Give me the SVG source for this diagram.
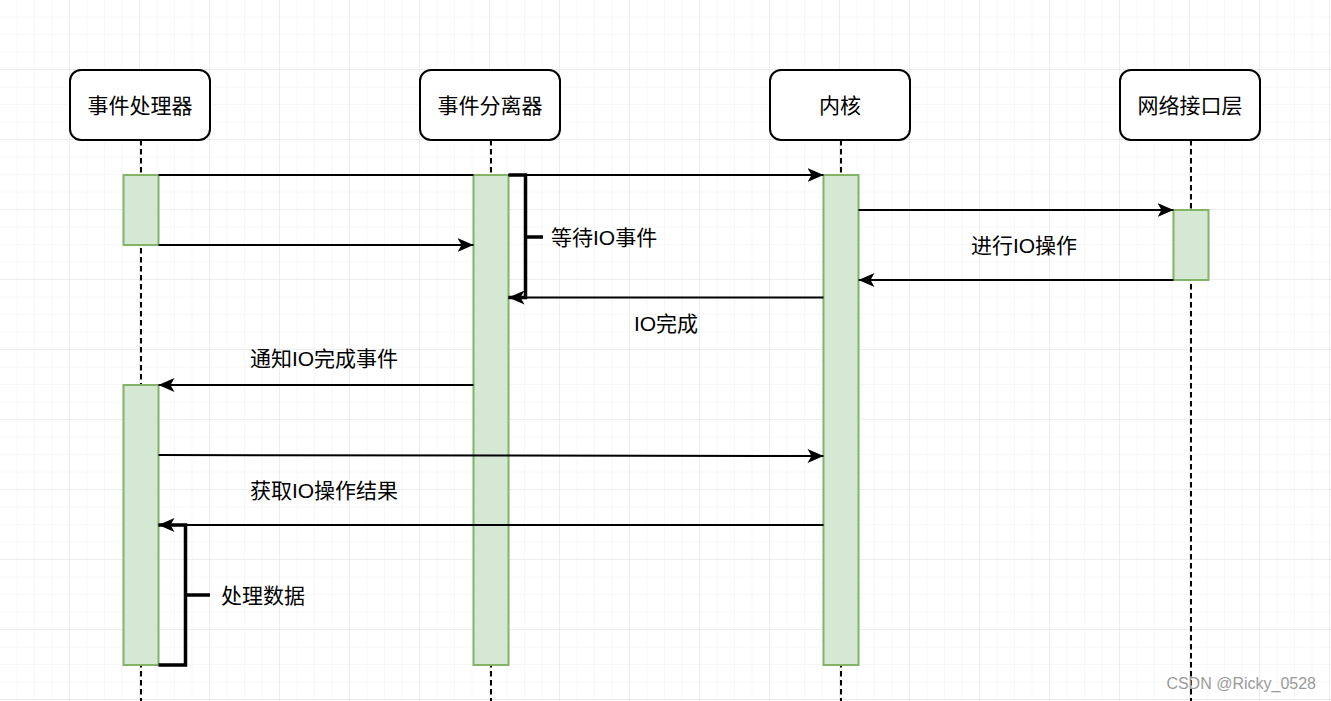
<svg xmlns="http://www.w3.org/2000/svg" width="1331" height="701" viewBox="0 0 1331 701">
<defs>
<pattern id="minor" width="17.5" height="17.5" patternUnits="userSpaceOnUse">
<path d="M17.5 0 V17.5 M0 17.5 H17.5" fill="none" stroke="#f0f0f0" stroke-width="1"/>
</pattern>
<pattern id="major" width="70" height="70" patternUnits="userSpaceOnUse">
<rect width="70" height="70" fill="url(#minor)"/>
<path d="M70 0 V70 M0 70 H70" fill="none" stroke="#e2e2e2" stroke-width="1"/>
</pattern>
<marker id="arr" viewBox="0 0 16 14" refX="16" refY="7" markerWidth="16" markerHeight="14" markerUnits="userSpaceOnUse" orient="auto">
<path d="M0 0 L16 7 L0 14 L4 7 Z" fill="#000"/>
</marker>
<style>
.hdr rect{fill:#fff;stroke:#000;stroke-width:2}
text{font-family:"Liberation Sans","Noto Sans CJK SC",sans-serif;font-size:21px;fill:#000;dominant-baseline:central}
.life{stroke:#000;stroke-width:2;stroke-dasharray:5.5 3.5;fill:none}
.act{fill:#d5e8d4;stroke:#82b366;stroke-width:2}
.msg{stroke:#000;stroke-width:2;fill:none}
.arw{marker-end:url(#arr)}
.brk{stroke:#000;stroke-width:3.5;fill:none}
</style>
</defs>
<rect width="1331" height="701" fill="#fff"/>
<rect width="1331" height="701" fill="url(#major)"/>

<g id="lifelines">
<line class="life" x1="141" y1="140" x2="141" y2="701"/>
<line class="life" x1="491" y1="140" x2="491" y2="701"/>
<line class="life" x1="841" y1="140" x2="841" y2="701"/>
<line class="life" x1="1191" y1="140" x2="1191" y2="701"/>
</g>

<g id="handler" class="hdr"><rect x="70" y="70" width="140" height="70" rx="11"/><text x="140" y="105" text-anchor="middle">事件处理器</text></g>
<g id="demux" class="hdr"><rect x="420" y="70" width="140" height="70" rx="11"/><text x="490" y="105" text-anchor="middle">事件分离器</text></g>
<g id="kernel" class="hdr"><rect x="770" y="70" width="140" height="70" rx="11"/><text x="840" y="105" text-anchor="middle">内核</text></g>
<g id="net" class="hdr"><rect x="1120" y="70" width="140" height="70" rx="11"/><text x="1190" y="105" text-anchor="middle">网络接口层</text></g>

<g id="activations">
<rect class="act" x="123.5" y="175" width="35" height="70"/>
<rect class="act" x="123.5" y="385" width="35" height="280"/>
<rect class="act" x="473.5" y="175" width="35" height="490"/>
<rect class="act" x="823.5" y="175" width="35" height="490"/>
<rect class="act" x="1173.5" y="210" width="35" height="70"/>
</g>

<g id="connectors">
<line class="msg" x1="158.5" y1="175" x2="473.5" y2="175"/>
<line class="msg arw" x1="508.5" y1="175" x2="823.5" y2="175"/>
<line class="msg arw" x1="158.5" y1="245" x2="473.5" y2="245"/>
<line class="msg arw" x1="858.5" y1="210" x2="1173.5" y2="210"/>
<line class="msg arw" x1="1173.5" y1="280" x2="858.5" y2="280"/>
<line class="msg arw" x1="823.5" y1="297.5" x2="508.5" y2="297.5"/>
<line class="msg arw" x1="473.5" y1="385" x2="158.5" y2="385"/>
<line class="msg arw" x1="158.5" y1="455" x2="823.5" y2="456"/>
<line class="msg arw" x1="823.5" y1="525" x2="158.5" y2="525"/>
<path class="brk" d="M508.5 175 H525.5 V297.5 H508.5 M525.5 237 H543"/>
<path class="brk" d="M158.5 525 H185.5 V665 H158.5 M185.5 595 H210"/>
</g>

<g id="labels">
<text x="551" y="237">等待IO事件</text>
<text x="1024" y="245" text-anchor="middle">进行IO操作</text>
<text x="666" y="323" text-anchor="middle">IO完成</text>
<text x="324" y="358" text-anchor="middle">通知IO完成事件</text>
<text x="324" y="490" text-anchor="middle">获取IO操作结果</text>
<text x="221" y="595">处理数据</text>
</g>

<text x="1316" y="683" text-anchor="end" style="font-size:16px;fill:#9a9a9a">CSDN @Ricky_0528</text>
</svg>
